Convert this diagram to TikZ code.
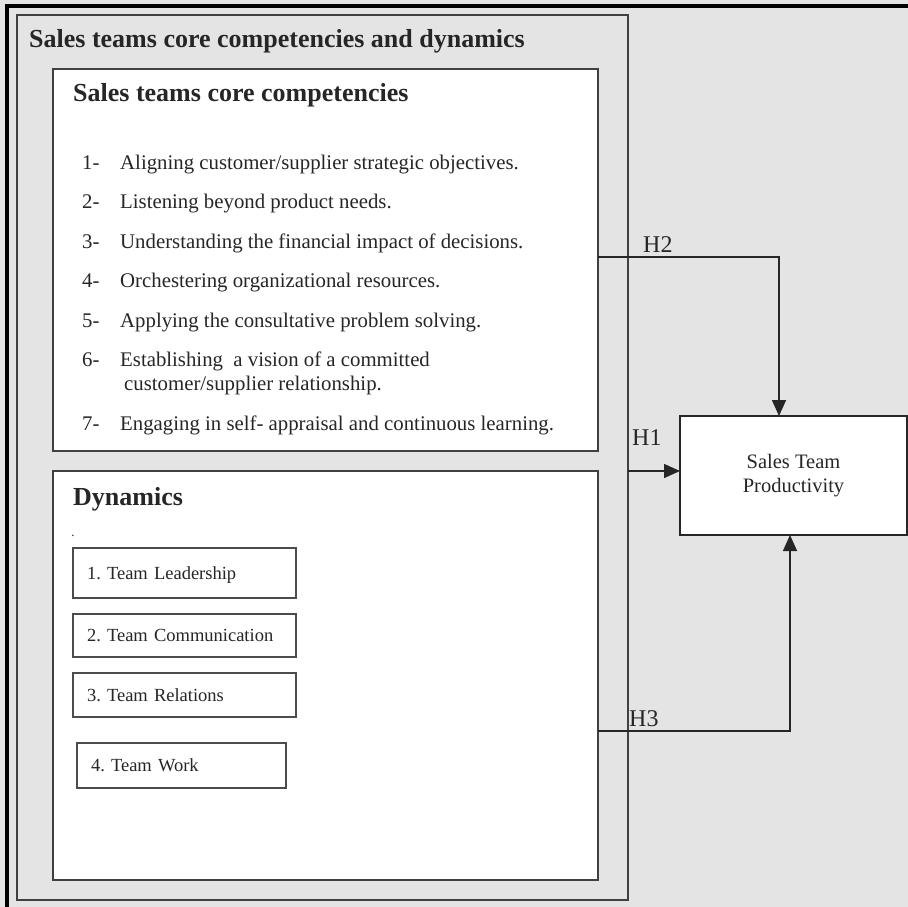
\documentclass[tikz,border=0pt]{standalone}
\usepackage{fontspec}
\setmainfont{Liberation Serif}
\usetikzlibrary{arrows.meta}

\definecolor{pagegray}{HTML}{E4E4E4}
\definecolor{inkgray}{HTML}{262626}

\frenchspacing

\begin{document}
\begin{tikzpicture}[x=1pt, y=-1pt,
  frame/.style={draw=black!75, line width=1.8pt, outer sep=0pt, inner sep=0pt, anchor=north west},
  whitebox/.style={frame, fill=white},
  teambox/.style={draw=black!70, line width=1.2pt, fill=white, anchor=north west, outer sep=0pt,
    inner xsep=14pt, inner ysep=0pt, align=left, text depth=0pt, text=inkgray,
    font=\fontsize{18.5}{21}\selectfont},
  title/.style={anchor=base west, inner sep=0pt, text=inkgray, font=\fontsize{26}{30}\selectfont\bfseries},
  item/.style={anchor=base west, inner sep=0pt, text=inkgray, font=\fontsize{20.8}{24}\selectfont},
  hlabel/.style={anchor=base west, inner sep=0pt, text=inkgray, font=\fontsize{24}{28}\selectfont},
  conn/.style={draw=inkgray, line width=1.5pt},
  arrow/.style={conn, -{Triangle[length=16pt, width=14pt]}}
]
  % page and heavy frame lines
  \fill[pagegray] (0,0) rectangle (908,907);
  \useasboundingbox (0,0) rectangle (908,907);
  \draw[line width=4pt, miter limit=10] (6.5,907) -- (6.5,6) -- (908,6);

  % outer box
  \node[frame, fill=pagegray, minimum width=611pt, minimum height=885pt] (outer) at (17,15) {};
  \node[title] (outertitle) at (29,48) {Sales teams core competencies and dynamics};

  % core competencies
  \node[whitebox, minimum width=545pt, minimum height=382pt] (core) at (53,69) {};
  \node[title] (coretitle) at (73,102) {Sales teams core competencies};
  \node[item] (n1) at (82,169) {1-};
  \node[item] (t1) at (120,169) {Aligning customer/supplier strategic objectives.};
  \node[item] (n2) at (82,208) {2-};
  \node[item] (t2) at (120,208) {Listening beyond product needs.};
  \node[item] (n3) at (82,248) {3-};
  \node[item] (t3) at (120,248) {Understanding the financial impact of decisions.};
  \node[item] (n4) at (82,287) {4-};
  \node[item] (t4) at (120,287) {Orchestering organizational resources.};
  \node[item] (n5) at (82,327) {5-};
  \node[item] (t5) at (120,327) {Applying the consultative problem solving.};
  \node[item] (n6) at (82,366) {6-};
  \node[item] (t6) at (120,366) {Establishing\ \ a vision of a committed};
  \node[item] (t6b) at (124,390) {customer/supplier relationship.};
  \node[item] (n7) at (82,430) {7-};
  \node[item] (t7) at (120,430) {Engaging in self- appraisal and continuous learning.};

  % dynamics
  \node[whitebox, minimum width=545pt, minimum height=409pt] (dyn) at (53,471) {};
  \node[title] (dyntitle) at (73,505) {Dynamics};
  \node[inner sep=0pt, text=inkgray, font=\fontsize{13}{14}\selectfont] (dot) at (73,536) {.};
  \node[teambox, minimum width=223pt, minimum height=50pt, text width=195pt] (team1) at (73,548) {1. Team Leadership};
  \node[teambox, minimum width=223pt, minimum height=43pt, text width=195pt] (team2) at (73,614) {2. Team Communication};
  \node[teambox, minimum width=223pt, minimum height=44pt, text width=195pt] (team3) at (73,673) {3. Team Relations};
  \node[teambox, minimum width=209pt, minimum height=45pt, text width=181pt] (team4) at (77,743) {4. Team Work};

  % outcome
  \node[whitebox, line width=1.5pt, draw=inkgray, minimum width=227pt, minimum height=119pt, align=center,
    text=inkgray, font=\fontsize{20.5}{24}\selectfont] (prod) at (680,416) {Sales Team\\Productivity};

  % hypotheses
  \coordinate (h2turn) at (779,257);
  \coordinate (h1mid) at (650,471);
  \coordinate (h3turn) at (790,731);
  \draw[arrow] (core.east |- h2turn) -- (h2turn) -- (h2turn |- prod.north);
  \draw[arrow] (outer.east |- h1mid) -- (prod.west |- h1mid);
  \draw[arrow] (dyn.east |- h3turn) -- (h3turn) -- (h3turn |- prod.south);
  \node[hlabel] (h2) at (643,252) {H2};
  \node[hlabel] (h1) at (632,445) {H1};
  \node[hlabel] (h3) at (629,726) {H3};
\end{tikzpicture}
\end{document}
